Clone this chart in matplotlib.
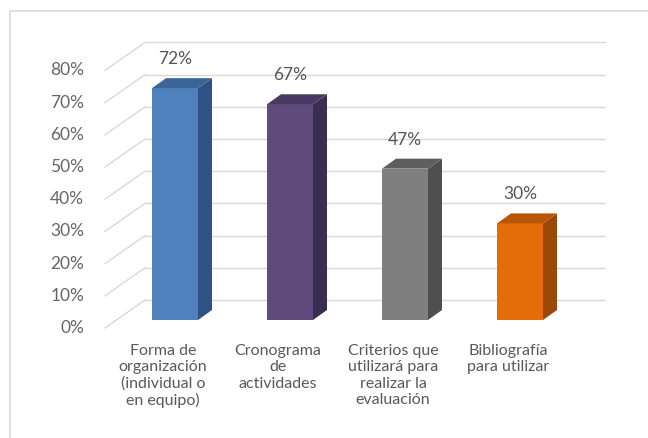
import numpy as np
import matplotlib.pyplot as plt
from matplotlib.patches import Polygon
from matplotlib.lines import Line2D

plt.rcParams['font.family'] = ['Lato', 'DejaVu Sans']

# data
categories = ["Forma de\norganización\n(individual o\nen equipo)",
              "Cronograma\nde\nactividades",
              "Criterios que\nutilizará para\nrealizar la\nevaluación",
              "Bibliografía\npara utilizar"]
values = [72, 67, 47, 30]
y_ticks = [0, 10, 20, 30, 40, 50, 60, 70, 80]

front_colors = ['#4f81bd', '#604a7b', '#7f7f7f', '#e46c0a']
side_colors = ['#2e5283', '#3b2c52', '#4f4f4f', '#9a4806']
top_colors = ['#3c6597', '#4a3a63', '#5e5e5e', '#b95707']

W, H = 648, 438
fig = plt.figure(figsize=(W / 100, H / 100), dpi=100)

# axes laid out so that 1 category = 115 px, 1 % = 3.22 px
px_x, px_y = 115.0, 3.22
x0_px, y0_px = 175.0, 320.0
L, R, T, B = 20, 630, 20, 420
ax = fig.add_axes([L / W, (H - B) / H, (R - L) / W, (B - T) / H])
ax.set_xlim((L - x0_px) / px_x, (R - x0_px) / px_x)
ax.set_ylim((y0_px - B) / px_y, (y0_px - T) / px_y)
ax.axis('off')

# plane offsets (relative to bar front plane)
fr_dx, fr_dy = -12 / px_x, -8 / px_y
bk_dx, bk_dy = 28 / px_x, 20 / px_y
x_left = (117 - x0_px) / px_x
x_right = (577 - x0_px) / px_x

grid_c = '#d9d9d9'
for t in y_ticks:
    ax.plot([x_left + bk_dx, x_right + bk_dx], [t + bk_dy, t + bk_dy],
            color=grid_c, lw=1, zorder=1)
    ax.plot([x_left + fr_dx, x_left + bk_dx], [t + fr_dy, t + bk_dy],
            color=grid_c, lw=1, zorder=1)
    ax.text(x_left + fr_dx - 21 / px_x, t + fr_dy, f"{t}%", ha='right',
            va='center', fontsize=12.5, color='#666666')

# bars
x = np.arange(len(values))
w = 46 / px_x
ddx, ddy = 14 / px_x, 10 / px_y
ax.bar(x, values, width=w, color=front_colors, zorder=3)
for xi, v, sc, tc in zip(x, values, side_colors, top_colors):
    side = [(xi + w / 2, 0), (xi + w / 2 + ddx, ddy),
            (xi + w / 2 + ddx, v + ddy), (xi + w / 2, v)]
    top = [(xi - w / 2, v), (xi - w / 2 + ddx, v + ddy),
           (xi + w / 2 + ddx, v + ddy), (xi + w / 2, v)]
    ax.add_patch(Polygon(side, closed=True, facecolor=sc, edgecolor='none', zorder=3))
    ax.add_patch(Polygon(top, closed=True, facecolor=tc, edgecolor='none', zorder=3))
    ax.text(xi, v + 9, f"{v}%", ha='center', va='center',
            fontsize=12.5, color='#555555', zorder=4)

# category labels
for xi, lab in zip(x, categories):
    ax.text(xi + fr_dx, fr_dy - 5, lab, ha='center', va='top',
            fontsize=11.5, color='#595959', linespacing=1.2)

# outer border: only left and top edges visible in the crop
fig.lines.append(Line2D([10 / W, 10 / W, 1], [0, 1 - 11 / H, 1 - 11 / H],
                        transform=fig.transFigure, color='#d9d9d9', lw=1.2))

fig.savefig('out.png', dpi=100)
